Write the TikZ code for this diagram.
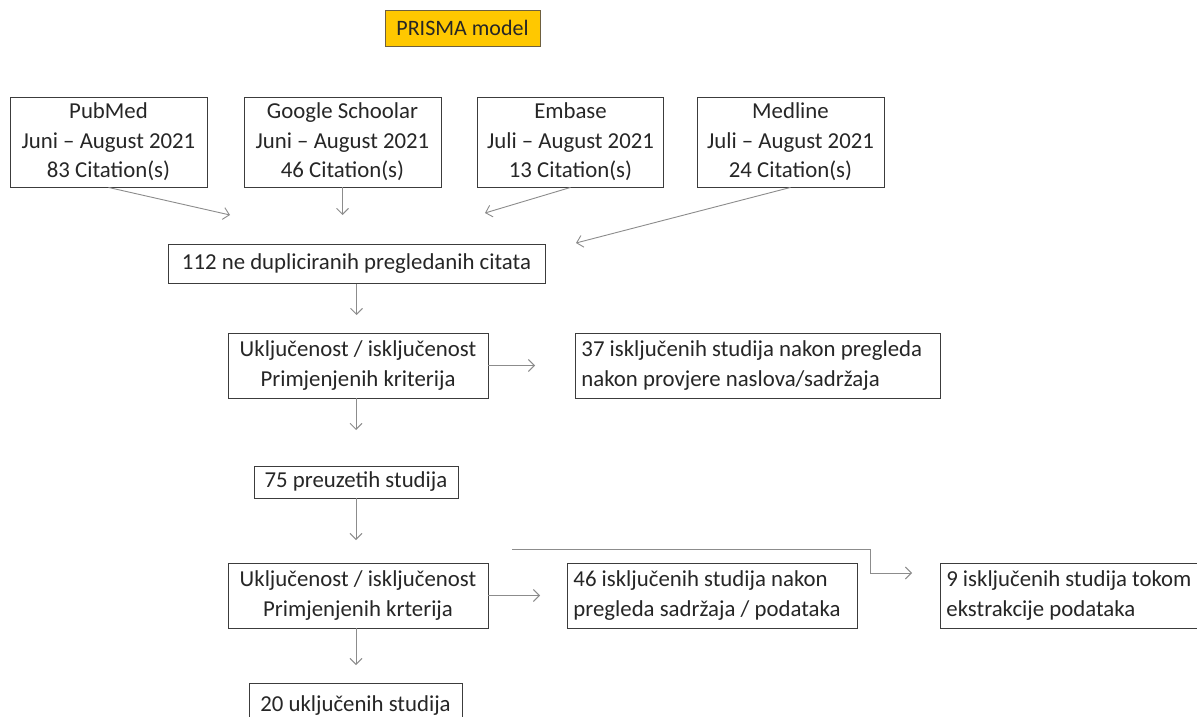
\documentclass[tikz,border=0pt]{standalone}
\usepackage{fontspec}
\setmainfont{Carlito}
\usetikzlibrary{arrows.meta}
\definecolor{boxline}{HTML}{3C3C3C}
\definecolor{arrline}{HTML}{8C8C8C}
\definecolor{gold}{HTML}{FFC800}
\definecolor{goldline}{HTML}{6E6040}
\tikzset{
  box/.style={draw=boxline, line width=0.9pt, fill=white, inner sep=0pt,
    font=\fontsize{22.8}{29.5}\selectfont, align=center, text=black!85},
  lbox/.style={box, align=flush left, inner xsep=6pt},
  arr/.style={draw=arrline, line width=0.9pt, -{Straight Barb[length=6pt,width=12pt]}},
}
\begin{document}
\begin{tikzpicture}[x=1pt,y=-1pt]
\useasboundingbox (0,0) rectangle (1197,717);
\clip (0,0) rectangle (1197,717);
\fill[white] (0,0) rectangle (1197,717);

\node[draw=goldline, fill=gold, line width=0.9pt, minimum width=155pt, minimum height=36pt, inner sep=0pt,
  font=\fontsize{22}{24}\selectfont, text=black!85] (title) at (462.5,28) {PRISMA model};

\node[box, minimum width=197pt, minimum height=90pt] (pub) at (108.5,142) {PubMed\\Juni – August 2021\\83 Citation(s)};
\node[box, minimum width=197pt, minimum height=90pt] (goo) at (342.5,142) {Google Schoolar\\Juni – August 2021\\46 Citation(s)};
\node[box, minimum width=186pt, minimum height=90pt] (emb) at (570.5,142) {Embase\\Juli – August 2021\\13 Citation(s)};
\node[box, minimum width=187pt, minimum height=90pt] (med) at (790.5,142) {Medline\\Juli – August 2021\\24 Citation(s)};

\node[box, minimum width=377pt, minimum height=39pt] (n112) at (356.5,264) {112 ne dupliciranih pregledanih citata};

\node[box, minimum width=260pt, minimum height=65pt] (u1) at (358,365.5) {Uključenost / isključenost\\Primjenjenih kriterija};
\node[lbox, text width=353pt, minimum height=65pt, anchor=west] (e37) at (575,365.5) {37 isključenih studija nakon pregleda\\nakon provjere naslova/sadržaja};

\node[box, minimum width=204pt, minimum height=32pt] (n75) at (356,482) {75 preuzetih studija};

\node[box, minimum width=260pt, minimum height=65pt] (u2) at (358,595.5) {Uključenost / isključenost\\Primjenjenih krterija};
\node[lbox, text width=278pt, minimum height=65pt, anchor=west] (e46) at (567,595.5) {46 isključenih studija nakon\\pregleda sadržaja / podataka};
\node[lbox, text width=245pt, minimum height=65pt, anchor=west] (e9) at (940,595.5) {9 isključenih studija tokom\\ekstrakcije podataka};

\node[box, minimum width=213pt, minimum height=44pt, anchor=north] (n20) at (355.5,683) {\raisebox{4pt}{20 uključenih studija}};

\coordinate (c1) at (230,215);
\coordinate (c2) at (342.5,215);
\coordinate (c3) at (485,213);
\coordinate (c4) at (576,243);
\coordinate (c5) at (356.5,315);
\coordinate (c6) at (535,365.5);
\coordinate (c7) at (356,430);
\coordinate (c8) at (356,540);
\coordinate (c9) at (540,595.5);
\coordinate (s10) at (512,549);
\coordinate (k10) at (870,549);
\coordinate (c10) at (912,573);
\coordinate (c11) at (356,665);

\draw[arr] (pub.south) -- (c1);
\draw[arr] (goo.south) -- (c2);
\draw[arr] (emb.south) -- (c3);
\draw[arr] (med.south) -- (c4);
\draw[arr] (n112.south) -- (c5);
\draw[arr] (u1.east) -- (c6);
\draw[arr] (u1.south -| n75.north) -- (c7);
\draw[arr] (n75.south) -- (c8);
\draw[arr] (u2.east) -- (c9);
\draw[arr] (s10) -- (k10) |- (c10);
\draw[arr] (u2.south -| n75.north) -- (c11);
\end{tikzpicture}
\end{document}
